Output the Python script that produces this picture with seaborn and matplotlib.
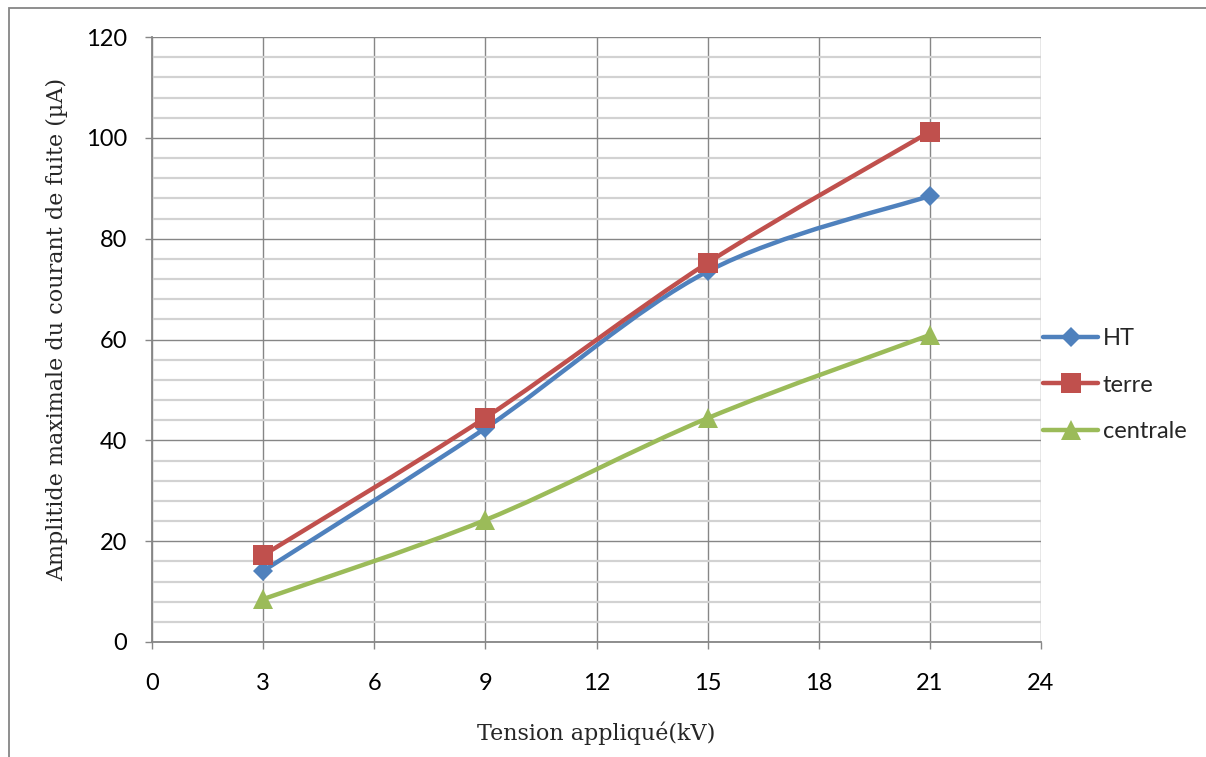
import numpy as np
import pandas as pd
import matplotlib.pyplot as plt
from matplotlib.path import Path
from matplotlib.patches import PathPatch, Rectangle
from matplotlib.lines import Line2D
from matplotlib.ticker import MultipleLocator
import seaborn as sns

# values
tension = [3, 9, 15, 21]
ht = [14.1, 42.4, 73.5, 88.5]
terre = [17.2, 44.5, 75.2, 101.2]
centrale = [8.5, 24.2, 44.4, 60.9]

series = ["HT", "terre", "centrale"]
colors = ["#4F81BD", "#C0504D", "#9BBB59"]
markers = ["D", "s", "^"]
msizes = [9.8, 14.2, 14.4]

df = pd.DataFrame({
    "Tension": tension * 3,
    "Courant": ht + terre + centrale,
    "Serie": np.repeat(series, len(tension)),
})

sns.set_theme(style="white")
plt.rcParams["font.family"] = ["Lato", "DejaVu Sans"]
label_font = ["DejaVu Serif"]
grid_major = "#868686"
grid_minor = "#d2d2d2"


def smooth_path(xs, ys):
    # excel-like smoothed line (catmull-rom as bezier) through the data points
    pts = np.column_stack([xs, ys]).astype(float)
    n = len(pts)
    verts = [pts[0]]
    codes = [Path.MOVETO]
    for i in range(n - 1):
        p0 = pts[max(i - 1, 0)]
        p1 = pts[i]
        p2 = pts[i + 1]
        p3 = pts[min(i + 2, n - 1)]
        verts += [p1 + (p2 - p0) / 6, p2 - (p3 - p1) / 6, p2]
        codes += [Path.CURVE4] * 3
    return Path(verts, codes)


fig = plt.figure(figsize=(12.06, 7.57), dpi=100)
ax = fig.add_axes([152 / 1206, 1 - 642 / 757, (1041 - 152) / 1206, (642 - 37) / 757])

for i, (name, c, m, ms) in enumerate(zip(series, colors, markers, msizes)):
    sub = df[df["Serie"] == name]
    ax.add_patch(PathPatch(smooth_path(sub["Tension"], sub["Courant"]),
                           fill=False, edgecolor=c, lw=3.2, zorder=3 + 2 * i,
                           capstyle="round", joinstyle="round"))
    sns.lineplot(data=sub, x="Tension", y="Courant", color=c, marker=m,
                 markersize=ms, markeredgewidth=0, linestyle="none",
                 legend=False, ax=ax, zorder=4 + 2 * i)

ax.set_xlim(0, 24)
ax.set_ylim(0, 120)
ax.xaxis.set_major_locator(MultipleLocator(3))
ax.yaxis.set_major_locator(MultipleLocator(20))
ax.yaxis.set_minor_locator(MultipleLocator(4))

ax.grid(which="minor", axis="y", color=grid_minor, lw=1.6, zorder=0)
ax.grid(which="major", axis="both", color=grid_major, lw=1.0, zorder=1)
ax.set_axisbelow(True)

for s in ["top", "right"]:
    ax.spines[s].set_visible(False)
for s in ["left", "bottom"]:
    ax.spines[s].set_color(grid_major)
    ax.spines[s].set_linewidth(1.3)

ax.tick_params(which="major", direction="out", length=5, width=1,
               color=grid_major, labelsize=17, labelcolor="black")
ax.tick_params(axis="y", which="major", left=True, pad=13)
ax.tick_params(axis="x", which="major", bottom=True, pad=17.5)
ax.tick_params(which="minor", left=False, bottom=False)

ax.set_xlabel("Tension appliqué(kV)", family=label_font, fontsize=16)
ax.xaxis.set_label_coords(0.5, -0.131)
ax.set_ylabel("Amplitide maximale du courant de fuite (µA)", family=label_font,
              fontsize=16)
ax.yaxis.set_label_coords(-0.094, 0.516)

handles = [Line2D([], [], color=c, lw=3.2, marker=m, markersize=ms, markeredgewidth=0)
           for c, m, ms in zip(colors, markers, msizes)]
fig.legend(handles, series, loc="center left", bbox_to_anchor=(1043 / 1206, 1 - 385 / 757),
           frameon=False, fontsize=17, handlelength=2.33, handletextpad=0.2,
           labelspacing=1.08, borderpad=0, borderaxespad=0)

fig.patches.append(Rectangle((9 / 1206, -0.05), 1.2, 1.05 - 8 / 757,
                             transform=fig.transFigure, fill=False,
                             edgecolor=grid_major, lw=1.3))

fig.savefig("out.png", dpi=100)
